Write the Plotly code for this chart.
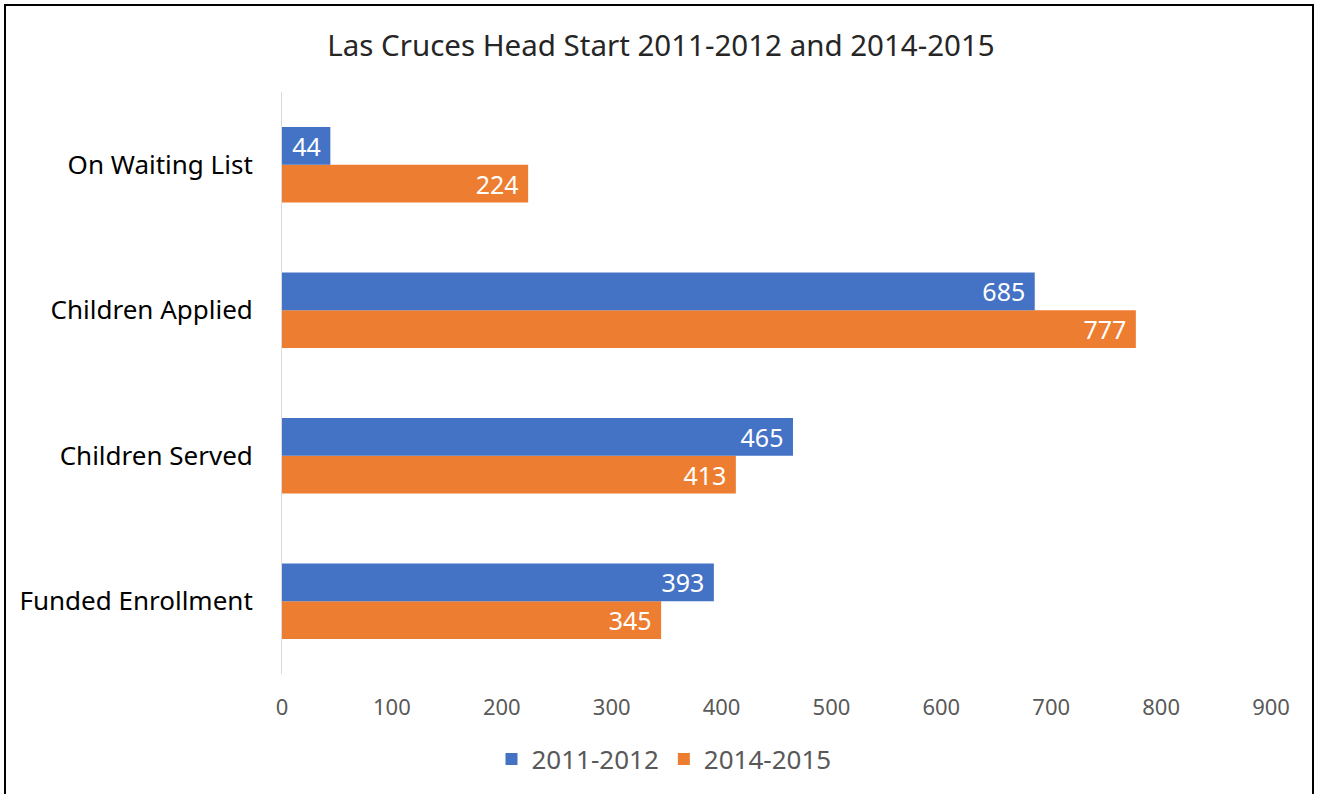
import plotly.graph_objects as go

categories = ["Funded Enrollment", "Children Served", "Children Applied", "On Waiting List"]
series_2011 = [393, 465, 685, 44]
series_2014 = [345, 413, 777, 224]
x_ticks = [0, 100, 200, 300, 400, 500, 600, 700, 800, 900]

W, H = 1319, 794
L, R, T, B = 282, 48, 92, 120
pw, ph = W - L - R, H - T - B

def px_x(p):
    return (p - L) / pw

def px_y(p):
    return (H - B - p) / ph

FONT = "Noto Sans"
PAD = "\u00a0"
fig = go.Figure()
fig.add_trace(go.Bar(
    y=categories, x=series_2014, name="2014-2015", orientation="h",
    marker=dict(color="#ED7D31", line=dict(width=0)),
    text=[str(v) + PAD for v in series_2014],
    textposition="inside", insidetextanchor="end", textangle=0,
    textfont=dict(color="white", size=25, family=FONT), legendrank=2,
    constraintext="none", hoverinfo="x+name",
))
fig.add_trace(go.Bar(
    y=categories, x=series_2011, name="2011-2012", orientation="h",
    marker=dict(color="#4472C4", line=dict(width=0)),
    text=[str(v) + PAD for v in series_2011],
    textposition="inside", insidetextanchor="end", textangle=0,
    textfont=dict(color="white", size=25, family=FONT), legendrank=1,
    constraintext="none", hoverinfo="x+name",
))

fig.update_layout(
    width=W, height=H,
    margin=dict(l=L, r=R, t=T, b=B, autoexpand=False),
    paper_bgcolor="white", plot_bgcolor="white",
    barmode="group", bargap=0.48, bargroupgap=0,
    font=dict(family=FONT),
    title=dict(text="Las Cruces Head Start 2011-2012 and 2014-2015",
               x=661 / W, xanchor="center",
               y=1 - 46 / H, yanchor="middle",
               font=dict(size=29.5, color="#262626", family=FONT)),
    xaxis=dict(range=[0, 900], tickvals=x_ticks, showgrid=False, zeroline=False,
               showline=False, tickfont=dict(size=22, color="#595959", family=FONT),
               ticklabelstandoff=18),
    yaxis=dict(showgrid=False, zeroline=False, showline=True, linecolor="#D9D9D9",
               linewidth=1, tickfont=dict(size=26, color="#000000", family=FONT),
               ticklabelstandoff=23),
    legend=dict(orientation="h", x=px_x(664), xanchor="center", y=px_y(759),
                yanchor="middle", font=dict(size=26, color="#595959", family=FONT),
                itemwidth=30, traceorder="normal"),
    showlegend=True,
    shapes=[dict(type="rect", xref="paper", yref="paper",
                 x0=px_x(5), x1=px_x(1313), y0=px_y(800), y1=px_y(5),
                 line=dict(color="black", width=2), fillcolor="rgba(0,0,0,0)",
                 layer="below")],
)

fig.write_html("out.html", config={"displayModeBar": False},
               post_script="document.body.style.margin='0';")
